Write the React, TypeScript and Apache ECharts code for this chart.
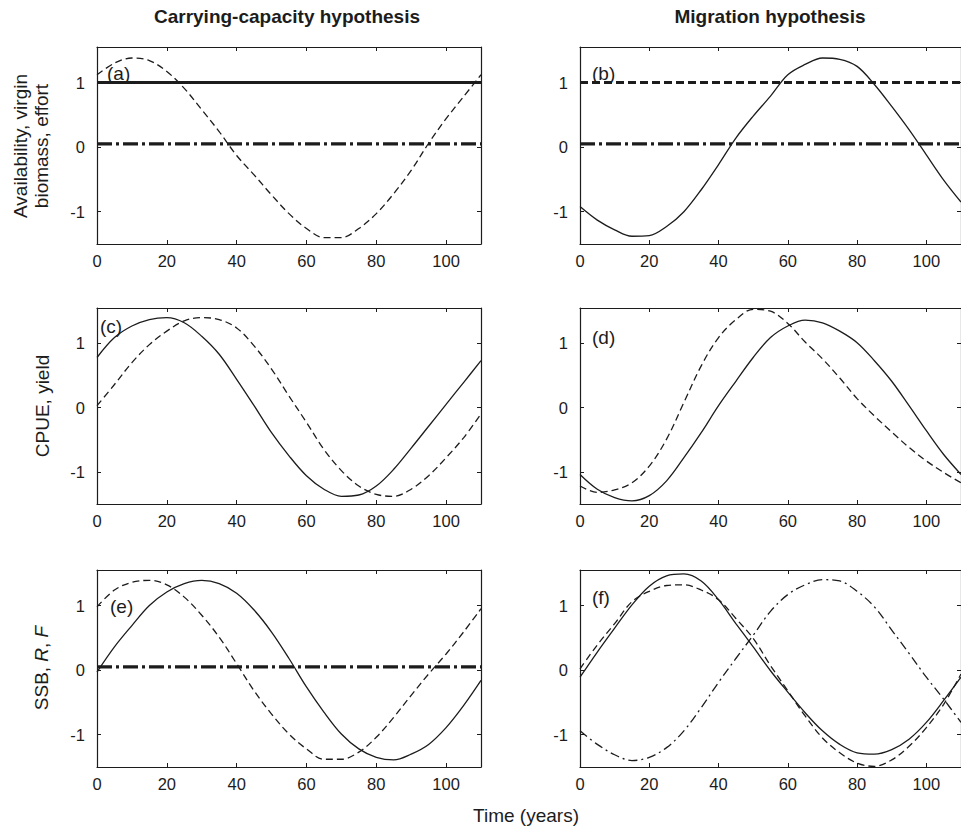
import React, { useEffect, useRef } from "react";
import * as echarts from "echarts";

// ---------- data ----------
const years = [0, 5, 10, 15, 20, 25, 30, 35, 40, 45, 50, 55, 60, 65, 70, 75, 80, 85, 90, 95, 100, 105, 110];
const xTicks = [0, 20, 40, 60, 80, 100];
const yTicks = [-1, 0, 1];
const xRange = [0, 110];
const yRange = [-1.5, 1.55];

const columnTitles = ["Carrying-capacity hypothesis", "Migration hypothesis"];
const xAxisTitle = "Time (years)";
const panelTags = ["(a)", "(b)", "(c)", "(d)", "(e)", "(f)"];

// constant levels
const availabilityLevel = 1;
const effortLevel = 0.05;

// (a) carrying-capacity: virgin biomass (dashed)
const aDashed = [1.12, 1.3, 1.38, 1.34, 1.17, 0.91, 0.58, 0.24, -0.13, -0.43, -0.74, -1.03, -1.26, -1.4, -1.4, -1.26, -1.03, -0.72, -0.36, 0.06, 0.44, 0.78, 1.12];
// (b) migration: availability (solid)
const bSolid = [-0.92, -1.13, -1.28, -1.38, -1.37, -1.23, -1.0, -0.66, -0.27, 0.14, 0.48, 0.79, 1.12, 1.28, 1.38, 1.36, 1.25, 0.97, 0.63, 0.27, -0.12, -0.51, -0.85];
// (c) CPUE, yield
const cSolid = [0.78, 1.09, 1.27, 1.37, 1.4, 1.32, 1.11, 0.83, 0.44, 0.03, -0.39, -0.75, -1.06, -1.27, -1.38, -1.36, -1.22, -0.96, -0.63, -0.29, 0.05, 0.39, 0.73];
const cDashed = [0.03, 0.36, 0.7, 0.98, 1.19, 1.35, 1.4, 1.37, 1.24, 0.96, 0.6, 0.18, -0.23, -0.65, -0.98, -1.22, -1.35, -1.38, -1.27, -1.06, -0.78, -0.47, -0.1];
// (d) CPUE, yield
const dSolid = [-1.04, -1.27, -1.4, -1.45, -1.37, -1.14, -0.78, -0.39, 0.03, 0.41, 0.78, 1.09, 1.27, 1.36, 1.32, 1.19, 1.01, 0.73, 0.41, 0.03, -0.36, -0.73, -1.04];
const dDashed = [-1.22, -1.32, -1.28, -1.17, -0.91, -0.49, 0.08, 0.65, 1.09, 1.37, 1.53, 1.5, 1.31, 1.02, 0.76, 0.46, 0.14, -0.13, -0.38, -0.62, -0.83, -1.01, -1.17];
// (e) SSB, R, F
const eSolid = [-0.03, 0.36, 0.69, 1.0, 1.21, 1.34, 1.39, 1.34, 1.19, 0.93, 0.59, 0.18, -0.26, -0.65, -0.99, -1.22, -1.35, -1.39, -1.3, -1.15, -0.89, -0.55, -0.16];
const eDashed = [0.98, 1.24, 1.36, 1.39, 1.32, 1.13, 0.85, 0.51, 0.1, -0.32, -0.68, -0.99, -1.22, -1.38, -1.38, -1.27, -1.04, -0.73, -0.39, -0.06, 0.25, 0.59, 0.95];
// (f) SSB, R, F
const fSolid = [-0.11, 0.28, 0.65, 1.01, 1.3, 1.46, 1.49, 1.38, 1.09, 0.72, 0.36, -0.01, -0.34, -0.66, -0.94, -1.15, -1.28, -1.3, -1.23, -1.07, -0.81, -0.47, -0.11];
const fDashed = [0.02, 0.39, 0.72, 1.06, 1.22, 1.31, 1.32, 1.24, 1.09, 0.8, 0.49, 0.07, -0.32, -0.71, -1.05, -1.28, -1.44, -1.49, -1.39, -1.18, -0.89, -0.53, -0.06];
const fDashDot = [-0.94, -1.15, -1.31, -1.4, -1.35, -1.2, -0.94, -0.58, -0.19, 0.18, 0.54, 0.91, 1.17, 1.32, 1.4, 1.38, 1.22, 0.98, 0.62, 0.26, -0.11, -0.45, -0.81];

// ---------- styling ----------
const ink = "#1c1c1c";
const FONT = '"Liberation Sans", Arial, sans-serif';
const THIN = 1.3;
const THICK = 3.2;
const thinDash = [7, 4];
const thickDash = [8, 4];
const thickDashDot = [15, 4, 3, 4];
const thinDashDot = [9, 4, 2, 4];

const colLeft = [97, 580];
const colWidth = [384, 385];
const rowTop = [47, 308, 570];
const rowHeight = [197, 196, 197];

export default function App() {
  const ref = useRef<HTMLDivElement>(null);

  useEffect(() => {
    if (!ref.current) return;
    const chart = echarts.init(ref.current, undefined, { renderer: "svg" });

    const grids: any[] = [];
    const xAxes: any[] = [];
    const yAxes: any[] = [];
    for (let r = 0; r < 3; r++) {
      for (let c = 0; c < 2; c++) {
        const g = grids.length;
        grids.push({ left: colLeft[c], top: rowTop[r], width: colWidth[c], height: rowHeight[r], show: false });
        const axisLine = { show: true, onZero: false, lineStyle: { color: ink, width: 1.2 } };
        const tick = (vals: number[]) => ({ show: true, inside: true, length: 4, customValues: vals, lineStyle: { color: ink, width: 1 } });
        xAxes.push({
          type: "value", gridIndex: g, position: "bottom", min: xRange[0], max: xRange[1],
          axisLine, axisTick: tick(xTicks), splitLine: { show: false },
          axisLabel: { customValues: xTicks, margin: 8, color: ink, fontSize: 16.5, fontFamily: FONT },
        });
        xAxes.push({
          type: "value", gridIndex: g, position: "top", min: xRange[0], max: xRange[1],
          axisLine, axisTick: tick(xTicks), splitLine: { show: false }, axisLabel: { show: false },
        });
        yAxes.push({
          type: "value", gridIndex: g, position: "left", min: yRange[0], max: yRange[1],
          axisLine, axisTick: tick(yTicks), splitLine: { show: false },
          axisLabel: { customValues: yTicks, margin: 12, color: ink, fontSize: 16.5, fontFamily: FONT },
        });
        yAxes.push({
          type: "value", gridIndex: g, position: "right", min: yRange[0], max: yRange[1],
          axisLine, axisTick: tick(yTicks), splitLine: { show: false }, axisLabel: { show: false },
        });
      }
    }

    const curve = (g: number, ys: number[], type: any, width: number) => ({
      type: "line", xAxisIndex: g * 2, yAxisIndex: g * 2,
      data: years.map((x, i) => [x, ys[i]]),
      symbol: "none", showSymbol: false, silent: true, smooth: 0.35,
      lineStyle: { color: ink, width, type, cap: "butt" },
    });
    const level = (g: number, v: number, type: any, width: number) => ({
      type: "line", xAxisIndex: g * 2, yAxisIndex: g * 2,
      data: xRange.map((x) => [x, v]),
      symbol: "none", showSymbol: false, silent: true,
      lineStyle: { color: ink, width, type, cap: "butt" },
    });

    const series = [
      // (a)
      level(0, availabilityLevel, "solid", THICK),
      level(0, effortLevel, thickDashDot, THICK),
      curve(0, aDashed, thinDash, THIN),
      // (b)
      level(1, availabilityLevel, thickDash, THICK),
      level(1, effortLevel, thickDashDot, THICK),
      curve(1, bSolid, "solid", THIN),
      // (c)
      curve(2, cSolid, "solid", THIN),
      curve(2, cDashed, thinDash, THIN),
      // (d)
      curve(3, dSolid, "solid", THIN),
      curve(3, dDashed, thinDash, THIN),
      // (e)
      level(4, effortLevel, thickDashDot, THICK),
      curve(4, eSolid, "solid", THIN),
      curve(4, eDashed, thinDash, THIN),
      // (f)
      curve(5, fSolid, "solid", THIN),
      curve(5, fDashed, thinDash, THIN),
      curve(5, fDashDot, thinDashDot, THIN),
    ];

    const tagPos = [
      [107, 73.5], [592, 73.5],
      [100, 326], [592, 337],
      [110, 606], [592, 597],
    ];
    const graphic: any[] = [];
    panelTags.forEach((t, i) => {
      graphic.push({
        type: "text", x: tagPos[i][0], y: tagPos[i][1], silent: true,
        style: { text: t, fill: ink, fontSize: 19, fontFamily: FONT, align: "left", verticalAlign: "middle" },
      });
    });
    graphic.push({
      type: "text", x: 287, y: 16, silent: true,
      style: { text: columnTitles[0], fill: ink, fontSize: 19, fontWeight: "bold", fontFamily: FONT, align: "center", verticalAlign: "middle" },
    });
    graphic.push({
      type: "text", x: 770, y: 16, silent: true,
      style: { text: columnTitles[1], fill: ink, fontSize: 19, fontWeight: "bold", fontFamily: FONT, align: "center", verticalAlign: "middle" },
    });
    graphic.push({
      type: "text", x: 526, y: 815, silent: true,
      style: { text: xAxisTitle, fill: ink, fontSize: 19, fontFamily: FONT, align: "center", verticalAlign: "middle" },
    });
    graphic.push({
      type: "text", x: 31, y: 146, rotation: Math.PI / 2, silent: true,
      style: { text: "Availability, virgin\nbiomass, effort", fill: ink, fontSize: 19, lineHeight: 21, fontFamily: FONT, align: "center", verticalAlign: "middle" },
    });
    graphic.push({
      type: "text", x: 42, y: 406, rotation: Math.PI / 2, silent: true,
      style: { text: "CPUE, yield", fill: ink, fontSize: 19, fontFamily: FONT, align: "center", verticalAlign: "middle" },
    });
    graphic.push({
      type: "text", x: 41, y: 668, rotation: Math.PI / 2, silent: true,
      style: {
        text: "SSB, {i|R}, {i|F}", fill: ink, fontSize: 19, fontFamily: FONT, align: "center", verticalAlign: "middle",
        rich: { i: { fontStyle: "italic", fontSize: 19, fontFamily: FONT, fill: ink } },
      },
    });

    chart.setOption({
      animation: false,
      backgroundColor: "#ffffff",
      grid: grids,
      xAxis: xAxes,
      yAxis: yAxes,
      series,
      graphic,
    });

    return () => chart.dispose();
  }, []);

  return (
    <div
      ref={ref}
      style={{ position: "absolute", left: 0, top: 0, width: 961, height: 828, background: "#fff" }}
    />
  );
}
